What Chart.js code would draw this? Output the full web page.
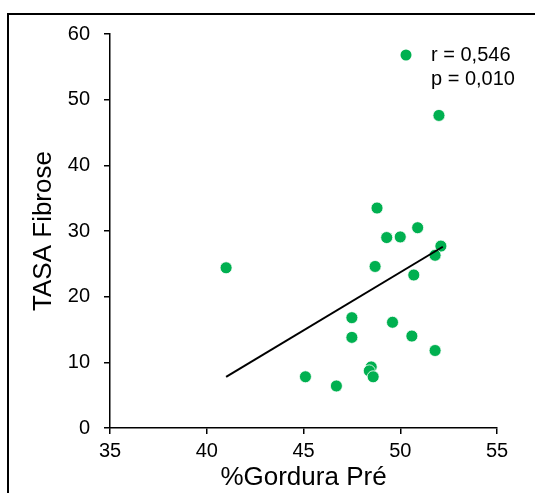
<!DOCTYPE html>
<html>
<head>
<meta charset="utf-8">
<script src="https://cdn.jsdelivr.net/npm/chart.js@4"></script>
<style>
  html, body { margin: 0; padding: 0; background: #fff; }
  #wrap { width: 535px; height: 493px; position: relative; }
</style>
</head>
<body>
<div id="wrap"><canvas id="grafica"></canvas></div>
<script>
// datos
const gorduraPre = [41.0, 48.8, 49.3, 50.0, 50.9, 52.1, 51.8, 48.7, 50.7, 47.5, 49.6, 47.5, 50.6, 51.8, 48.5, 48.4, 48.6, 45.1, 46.7, 52.0];
const tasaFibrose = [24.4, 33.5, 29.0, 29.1, 30.5, 27.7, 26.3, 24.6, 23.3, 16.8, 16.1, 13.8, 14.0, 11.8, 9.3, 8.7, 7.8, 7.8, 6.4, 47.6];

// linea de tendencia (extremos)
const tendX = [41.0, 52.2];
const tendY = [7.8, 27.6];

const legendaTexto = ["r = 0,546", "p = 0,010"];
const xTicks = [35, 40, 45, 50, 55];
const yTicks = [0, 10, 20, 30, 40, 50, 60];

const VERDE = "#00B050";
const FONTE = "'Liberation Sans', Arial, sans-serif";

const pontos = gorduraPre.map((x, i) => ({ x: x, y: tasaFibrose[i] }));
const tendencia = tendX.map((x, i) => ({ x: x, y: tendY[i] }));

// borde del grafico y leyenda
const extras = {
    id: "extras",
    beforeDraw(chart) {
        const c = chart.ctx;
        c.save();
        c.fillStyle = "#fff";
        c.fillRect(0, 0, chart.width, chart.height);
        c.strokeStyle = "#000";
        c.lineWidth = 2;
        c.beginPath();
        c.moveTo(8, chart.height + 5);
        c.lineTo(8, 14);
        c.lineTo(chart.width + 5, 14);
        c.stroke();
        c.restore();
    },
    afterDraw(chart) {
        const c = chart.ctx;
        const ca = chart.chartArea;
        c.save();
        c.fillStyle = VERDE;
        c.beginPath();
        c.arc(ca.right - 91, ca.top + 21, 5.5, 0, Math.PI * 2);
        c.fill();
        c.fillStyle = "#000";
        c.font = "20px " + FONTE;
        c.textBaseline = "middle";
        legendaTexto.forEach((t, i) => {
            c.fillText(t, ca.right - 66, ca.top + 21 + i * 24);
        });
        c.restore();
    }
};

new Chart(document.getElementById("grafica"), {
    type: "scatter",
    data: {
        datasets: [
            {
                type: "line",
                label: "tendencia",
                data: tendencia,
                borderColor: "#000",
                borderWidth: 2,
                pointRadius: 0,
                fill: false
            },
            {
                label: "TASA Fibrose",
                data: pontos,
                backgroundColor: VERDE,
                borderColor: "#fff",
                borderWidth: 0.8,
                pointRadius: 6
            }
        ]
    },
    options: {
        responsive: true,
        maintainAspectRatio: false,
        animation: false,
        layout: { padding: { left: 0, top: 34, right: 38, bottom: 0 } },
        plugins: {
            legend: { display: false },
            tooltip: { enabled: false }
        },
        scales: {
            x: {
                type: "linear",
                min: 35,
                max: 55,
                afterBuildTicks: s => { s.ticks = xTicks.map(v => ({ value: v })); },
                afterFit: s => { s.height = 65; },
                grid: { drawOnChartArea: false, color: "#000", tickLength: 6, lineWidth: 1.5 },
                border: { color: "#000", width: 1.5 },
                ticks: { color: "#000", padding: 5, font: { family: FONTE, size: 20 } },
                title: {
                    display: true,
                    text: "%Gordura Pré",
                    color: "#000",
                    padding: { top: 0, bottom: 0 },
                    font: { family: FONTE, size: 26 }
                }
            },
            y: {
                min: 0,
                max: 60,
                afterBuildTicks: s => { s.ticks = yTicks.map(v => ({ value: v })); },
                afterFit: s => { s.width = 110; },
                grid: { drawOnChartArea: false, color: "#000", tickLength: 6, lineWidth: 1.5 },
                border: { color: "#000", width: 1.5 },
                ticks: { color: "#000", padding: 14, font: { family: FONTE, size: 20 } },
                title: {
                    display: true,
                    text: "TASA Fibrose",
                    color: "#000",
                    padding: { top: 28, bottom: 0 },
                    font: { family: FONTE, size: 26 }
                }
            }
        }
    },
    plugins: [extras]
});
</script>
</body>
</html>
